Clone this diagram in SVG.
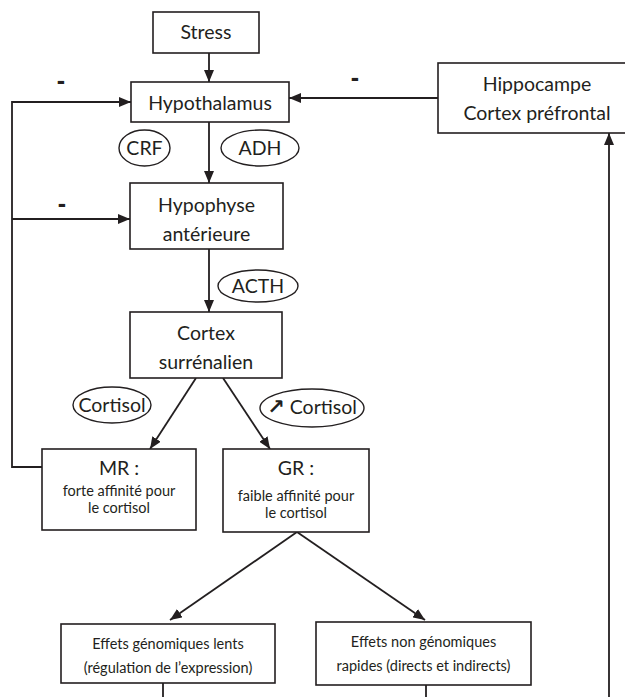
<svg xmlns="http://www.w3.org/2000/svg" width="625" height="697" viewBox="0 0 625 697">
<defs>
<marker id="ah" markerUnits="userSpaceOnUse" markerWidth="12" markerHeight="10" viewBox="0 0 12 10" refX="12" refY="5" orient="auto">
<path d="M0,0 L12,5 L0,10 Z" fill="#231f20"/>
</marker>
</defs>
<style>
rect.box{fill:#fff;stroke:#231f20;stroke-width:1.6}
ellipse.e{fill:#fff;stroke:#231f20;stroke-width:1.4}
.t{font-family:Lato,"Liberation Sans",sans-serif;fill:#231f20;text-anchor:middle}
.big{font-size:19.5px}
.sm{font-size:14.5px}
.minus{font-family:"Liberation Sans",sans-serif;font-weight:bold;font-size:25px;fill:#231f20;text-anchor:middle}
#connectors line,#connectors polyline{stroke:#231f20;stroke-width:1.8;fill:none}
</style>
<g id="connectors">
<line x1="209" y1="53" x2="209" y2="82" marker-end="url(#ah)"/>
<line x1="209" y1="122" x2="209" y2="183" marker-end="url(#ah)"/>
<line x1="209" y1="249" x2="209" y2="312" marker-end="url(#ah)"/>
<line x1="196" y1="378" x2="150" y2="449" marker-end="url(#ah)"/>
<line x1="223" y1="378" x2="270" y2="449" marker-end="url(#ah)"/>
<line x1="297" y1="532" x2="170" y2="620" marker-end="url(#ah)"/>
<line x1="297" y1="532" x2="425" y2="620" marker-end="url(#ah)"/>
<line x1="438" y1="98" x2="289" y2="98" marker-end="url(#ah)"/>
<polyline points="42,467 12,467 12,102 131,102" marker-end="url(#ah)"/>
<line x1="12" y1="219" x2="130" y2="219" marker-end="url(#ah)"/>
<line x1="609" y1="697" x2="609" y2="133" marker-end="url(#ah)"/>
<line x1="163" y1="683" x2="163" y2="697"/>
<line x1="426" y1="685" x2="426" y2="697"/>
</g>
<g id="minus-signs">
<text class="minus" x="61" y="89">-</text>
<text class="minus" x="62" y="212">-</text>
<text class="minus" x="355" y="86">-</text>
</g>
<g id="stress">
<rect class="box" x="153" y="12" width="106" height="41"/>
<text class="t big" x="206" y="39">Stress</text>
</g>
<g id="hypothalamus">
<rect class="box" x="131" y="82" width="158" height="40"/>
<text class="t big" x="210" y="110">Hypothalamus</text>
</g>
<g id="hippocampe">
<rect class="box" x="438" y="63" width="190" height="70"/>
<text class="t big" x="537" y="91">Hippocampe</text>
<text class="t big" x="537" y="120">Cortex préfrontal</text>
</g>
<g id="crf">
<ellipse class="e" cx="144.5" cy="148" rx="25.5" ry="18"/>
<text class="t big" x="144.5" y="155">CRF</text>
</g>
<g id="adh">
<ellipse class="e" cx="260" cy="148" rx="39" ry="18"/>
<text class="t big" x="260" y="155">ADH</text>
</g>
<g id="hypophyse">
<rect class="box" x="130" y="183" width="153" height="66"/>
<text class="t big" x="206.5" y="212">Hypophyse</text>
<text class="t big" x="206.5" y="241">antérieure</text>
</g>
<g id="acth">
<ellipse class="e" cx="258" cy="286" rx="40" ry="16"/>
<text class="t big" x="258" y="293">ACTH</text>
</g>
<g id="cortex-surrenalien">
<rect class="box" x="130" y="312" width="152" height="66"/>
<text class="t big" x="206" y="340">Cortex</text>
<text class="t big" x="206" y="369">surrénalien</text>
</g>
<g id="cortisol-left">
<ellipse class="e" cx="112" cy="405" rx="39" ry="18"/>
<text class="t big" x="112" y="412">Cortisol</text>
</g>
<g id="cortisol-right">
<ellipse class="e" cx="312" cy="408" rx="52" ry="19"/>
<text class="t big" x="312" y="414"><tspan font-family="'DejaVu Sans',sans-serif" font-weight="bold" font-size="21px">↗</tspan> Cortisol</text>
</g>
<g id="mr">
<rect class="box" x="42" y="449" width="154" height="81"/>
<text class="t big" x="119" y="475">MR :</text>
<text class="t sm" x="119" y="496">forte affinité pour</text>
<text class="t sm" x="119" y="513">le cortisol</text>
</g>
<g id="gr">
<rect class="box" x="223" y="449" width="146" height="83"/>
<text class="t big" x="296" y="475">GR :</text>
<text class="t sm" x="296" y="501">faible affinité pour</text>
<text class="t sm" x="296" y="518">le cortisol</text>
</g>
<g id="effets-genomiques">
<rect class="box" x="61" y="624" width="214" height="59"/>
<text class="t sm" x="168" y="649">Effets génomiques lents</text>
<text class="t sm" x="168" y="673">(régulation de l’expression)</text>
</g>
<g id="effets-non-genomiques">
<rect class="box" x="316" y="622" width="215" height="63"/>
<text class="t sm" x="423.5" y="647">Effets non génomiques</text>
<text class="t sm" x="423.5" y="671">rapides (directs et indirects)</text>
</g>
</svg>
